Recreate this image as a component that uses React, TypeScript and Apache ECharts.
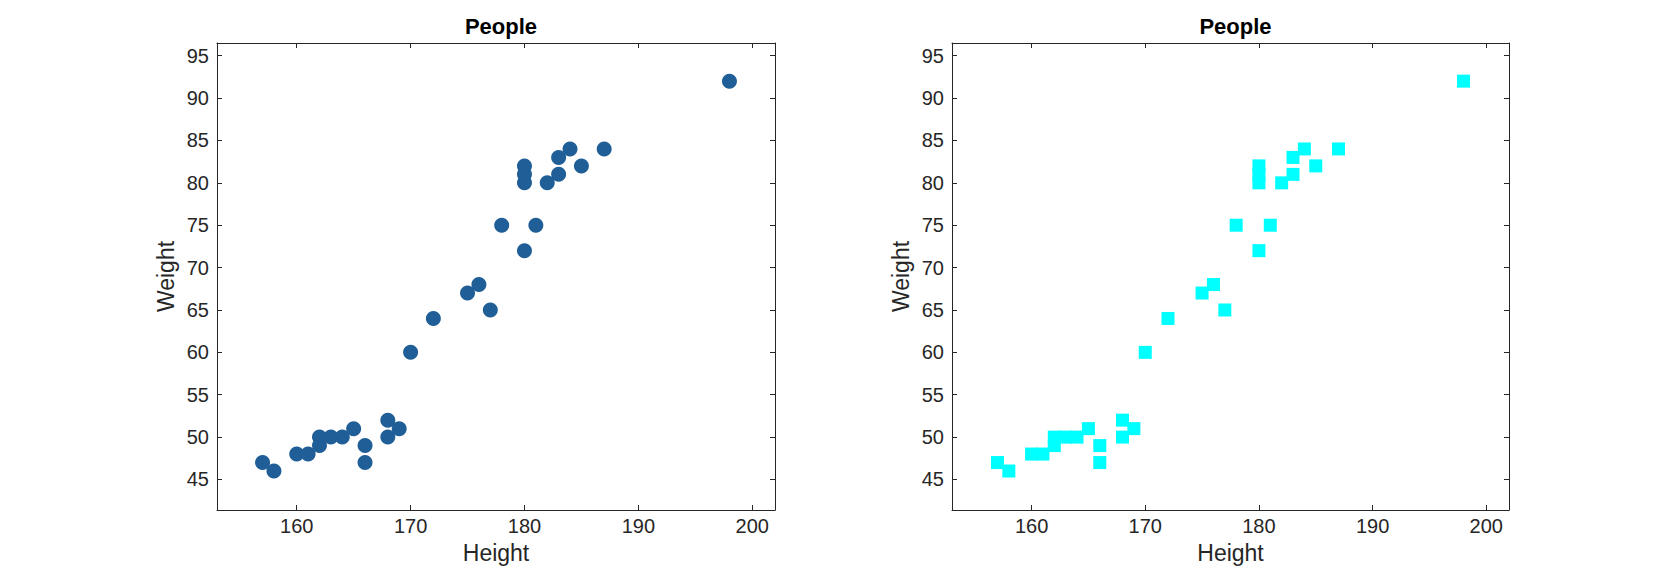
import React, { useEffect, useRef } from "react";
import * as echarts from "echarts";

const heights = [157, 158, 160, 161, 162, 162, 163, 164, 165, 166, 166, 168, 168, 169, 170, 172, 175, 176, 177, 178, 180, 181, 180, 180, 180, 182, 183, 183, 184, 185, 187, 198];
const weights = [47, 46, 48, 48, 50, 49, 50, 50, 51, 49, 47, 52, 50, 51, 60, 64, 67, 68, 65, 75, 72, 75, 80, 81, 82, 80, 81, 83, 84, 82, 84, 92];
const xTicks = [160, 170, 180, 190, 200];
const yTicks = [45, 50, 55, 60, 65, 70, 75, 80, 85, 90, 95];
const chartTitle = "People";
const xName = "Height";
const yName = "Weight";

const INK = "#262626";
const FONT = "Liberation Sans, Arial, Helvetica, sans-serif";

export default function App() {
  const ref = useRef<HTMLDivElement>(null);
  useEffect(() => {
    if (!ref.current) return;
    const chart = echarts.init(ref.current, null, { renderer: "svg" });
    const points = heights.map((h, i) => [h, weights[i]]);
    const grids = [
      { left: 217, top: 43, width: 558, height: 467 },
      { left: 952, top: 43, width: 557, height: 467 },
    ];
    const xMin = 153, xMax = 202, yMin = 41.4, yMax = 96.5;
    const xAxes: any[] = [];
    const yAxes: any[] = [];
    grids.forEach((_, gi) => {
      xAxes.push({
        type: "value", gridIndex: gi, position: "bottom", min: xMin, max: xMax,
        name: xName, nameLocation: "middle", nameGap: 31,
        nameTextStyle: { color: INK, fontSize: 23, fontFamily: FONT },
        axisLine: { show: true, onZero: false, lineStyle: { color: INK, width: 1 } },
        axisTick: { show: true, inside: true, length: 5, customValues: xTicks, lineStyle: { color: INK } },
        axisLabel: { show: true, customValues: xTicks, color: INK, fontSize: 20, fontFamily: FONT, margin: 6 },
        splitLine: { show: false },
      });
      xAxes.push({
        type: "value", gridIndex: gi, position: "top", min: xMin, max: xMax,
        axisLine: { show: true, onZero: false, lineStyle: { color: INK, width: 1 } },
        axisTick: { show: true, inside: true, length: 5, customValues: xTicks, lineStyle: { color: INK } },
        axisLabel: { show: false },
        splitLine: { show: false },
      });
      yAxes.push({
        type: "value", gridIndex: gi, position: "left", min: yMin, max: yMax,
        name: yName, nameLocation: "middle", nameGap: 40,
        nameTextStyle: { color: INK, fontSize: 23, fontFamily: FONT },
        axisLine: { show: true, onZero: false, lineStyle: { color: INK, width: 1 } },
        axisTick: { show: true, inside: true, length: 5, customValues: yTicks, lineStyle: { color: INK } },
        axisLabel: { show: true, customValues: yTicks, color: INK, fontSize: 20, fontFamily: FONT, margin: 8 },
        splitLine: { show: false },
      });
      yAxes.push({
        type: "value", gridIndex: gi, position: "right", min: yMin, max: yMax,
        axisLine: { show: true, onZero: false, lineStyle: { color: INK, width: 1 } },
        axisTick: { show: true, inside: true, length: 5, customValues: yTicks, lineStyle: { color: INK } },
        axisLabel: { show: false },
        splitLine: { show: false },
      });
    });
    chart.setOption({
      animation: false,
      backgroundColor: "#ffffff",
      title: grids.map((g) => ({
        text: chartTitle,
        left: g.left + g.width / 2,
        top: 10,
        textAlign: "center",
        textStyle: { color: "#000", fontSize: 22, fontWeight: "bold", fontFamily: FONT },
      })),
      grid: grids,
      xAxis: xAxes,
      yAxis: yAxes,
      series: [
        {
          type: "scatter", xAxisIndex: 0, yAxisIndex: 0, data: points,
          symbol: "circle", symbolSize: 15,
          itemStyle: { color: "#1f5e96", opacity: 1 },
        },
        {
          type: "scatter", xAxisIndex: 2, yAxisIndex: 2, data: points,
          symbol: "rect", symbolSize: 13,
          itemStyle: { color: "#00ffff", opacity: 1 },
        },
      ],
    });
    return () => chart.dispose();
  }, []);
  return (
    <div
      ref={ref}
      style={{ position: "fixed", left: 0, top: 0, width: 1667, height: 573, background: "#fff" }}
    />
  );
}
